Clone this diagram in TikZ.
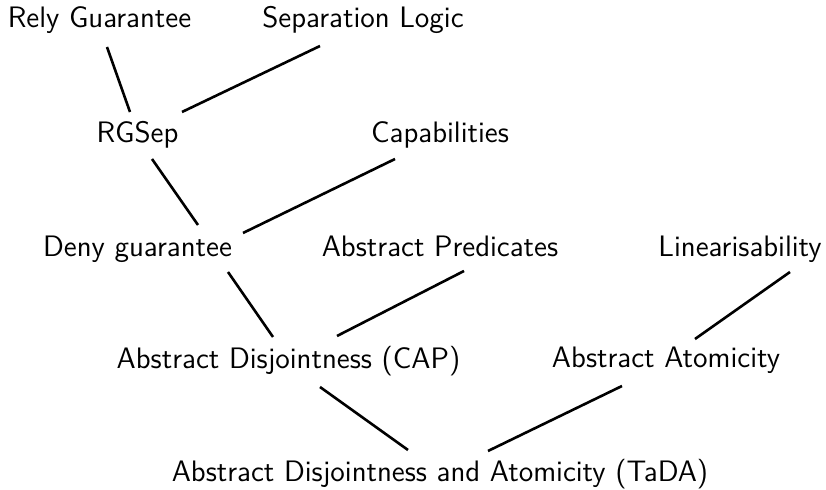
\documentclass[tikz,border=0pt]{standalone}
\usepackage{tikz}
\begin{document}
\begin{tikzpicture}[x=0.5pt,y=-0.5pt,
  lbl/.style={anchor=base,inner sep=0pt,font=\sffamily\fontsize{14.8}{18}\selectfont},
  link/.style={line width=1.3pt}]
\useasboundingbox (0,0) rectangle (826,490);
\node[lbl] (rely) at (99.5,28) {Rely Guarantee};
\node[lbl] (seplog) at (363,28) {Separation Logic};
\node[lbl] (rgsep) at (137.5,143) {RGSep};
\node[lbl] (capab) at (440,143) {Capabilities};
\node[lbl] (deny) at (137.5,257) {Deny guarantee};
\node[lbl] (abspred) at (440,257) {Abstract Predicates};
\node[lbl] (linear) at (740,257) {Linearisability};
\node[lbl] (capl) at (288.5,369) {Abstract Disjointness (CAP)};
\node[lbl] (atom) at (666,368) {Abstract Atomicity};
\node[lbl] (tada) at (440,482) {Abstract Disjointness and Atomicity (TaDA)};
\draw[link] ([shift={(7.5,19)}]rely.base) -- ([shift={(-7.5,-31)}]rgsep.base);
\draw[link] ([shift={(-43,18)}]seplog.base) -- ([shift={(44.5,-31)}]rgsep.base);
\draw[link] ([shift={(14.5,16)}]rgsep.base) -- ([shift={(60.5,-32)}]deny.base);
\draw[link] ([shift={(-45,16)}]capab.base) -- ([shift={(105.5,-24)}]deny.base);
\draw[link] ([shift={(90.5,15)}]deny.base) -- ([shift={(-15.5,-32)}]capl.base);
\draw[link] ([shift={(24,14)}]abspred.base) -- ([shift={(48.5,-33)}]capl.base);
\draw[link] ([shift={(50,15)}]linear.base) -- ([shift={(29,-29)}]atom.base);
\draw[link] ([shift={(31.5,18)}]capl.base) -- ([shift={(-32,-32)}]tada.base);
\draw[link] ([shift={(-44,18)}]atom.base) -- ([shift={(48,-31)}]tada.base);
\end{tikzpicture}
\end{document}
